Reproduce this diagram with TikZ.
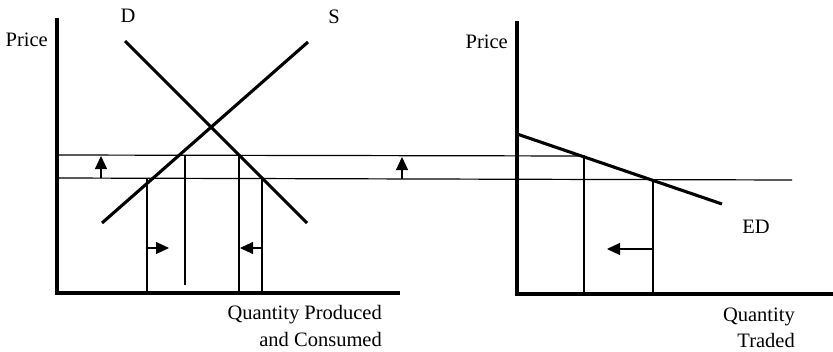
\documentclass[tikz,border=0pt]{standalone}
\usepackage{fontspec}
\setmainfont{Liberation Serif}
\usetikzlibrary{arrows.meta}
\begin{document}
\begin{tikzpicture}[x=1pt,y=-1pt,
  axis/.style={line width=3.2pt},
  curve/.style={line width=3.1pt},
  thinline/.style={line width=1.2pt},
  shiftarrow/.style={line width=1.2pt,-{Triangle[length=13pt,width=12pt]}},
  lbl/.style={inner sep=0pt,font=\fontsize{20.5}{23}\selectfont}]
\useasboundingbox (0,0) rectangle (833,351);
% left panel coordinates
\coordinate (LT) at (57,18);
\coordinate (LO) at (57,293);
\coordinate (LR) at (400,293);
\coordinate (D1) at (125,41);
\coordinate (D2) at (307,223);
\coordinate (S1) at (102,223);
\coordinate (S2) at (308,42);
% right panel coordinates
\coordinate (RT) at (517,21);
\coordinate (RO) at (517,294);
\coordinate (RR) at (833,294);
\coordinate (E1) at (517,134);
\coordinate (E2) at (722,204);
% price lines
\coordinate (PH0) at (57,155);
\coordinate (PH1) at (585,156);
\coordinate (PL0) at (57,178);
\coordinate (PL1) at (792,180);
% verticals
\coordinate (V1t) at (147,178); \coordinate (V1b) at (147,293);
\coordinate (V2t) at (185,155); \coordinate (V2b) at (185,285);
\coordinate (V3t) at (239,155); \coordinate (V3b) at (239,293);
\coordinate (V4t) at (262,178); \coordinate (V4b) at (262,293);
\coordinate (V5t) at (584,156); \coordinate (V5b) at (584,294);
\coordinate (V6t) at (653,180); \coordinate (V6b) at (653,294);
% arrows
\coordinate (A1s) at (101,178); \coordinate (A1e) at (101,156);
\coordinate (A2s) at (402,179); \coordinate (A2e) at (402,157);
\coordinate (A3s) at (147,248); \coordinate (A3e) at (169,248);
\coordinate (A4s) at (262,248); \coordinate (A4e) at (240,248);
\coordinate (A5s) at (653,249); \coordinate (A5e) at (607,249);
% thin lines
\draw[thinline] (PH0) -- (PH1);
\draw[thinline] (PL0) -- (PL1);
\draw[thinline] (V1t) -- (V1b);
\draw[thinline] (V2t) -- (V2b);
\draw[thinline] (V3t) -- (V3b);
\draw[thinline] (V4t) -- (V4b);
\draw[thinline] (V5t) -- (V5b);
\draw[thinline] (V6t) -- (V6b);
% shift arrows
\draw[shiftarrow] (A1s) -- (A1e);
\draw[shiftarrow] (A2s) -- (A2e);
\draw[shiftarrow] (A3s) -- (A3e);
\draw[shiftarrow] (A4s) -- (A4e);
\draw[shiftarrow] (A5s) -- (A5e);
% axes and curves
\draw[axis] (LT) -- (LO) -- (LR);
\draw[axis] (RT) -- (RO) -- (RR);
\draw[curve] (D1) -- (D2);
\draw[curve] (S1) -- (S2);
\draw[curve] (E1) -- (E2);
% labels
\node[lbl,anchor=east] (pl) at (48,40) {Price};
\node[lbl] (dl) at (128,16) {D};
\node[lbl] (sl) at (334,17) {S};
\node[lbl,anchor=east] (pr) at (508,42) {Price};
\node[lbl] (edl) at (756,227) {ED};
\node[lbl,anchor=east] (q1) at (382,315) {Quantity Produced};
\node[lbl,anchor=east] (q2) at (382,339) {and Consumed};
\node[lbl,anchor=east] (q3) at (795,317) {Quantity};
\node[lbl,anchor=east] (q4) at (795,340) {Traded};
\end{tikzpicture}
\end{document}
